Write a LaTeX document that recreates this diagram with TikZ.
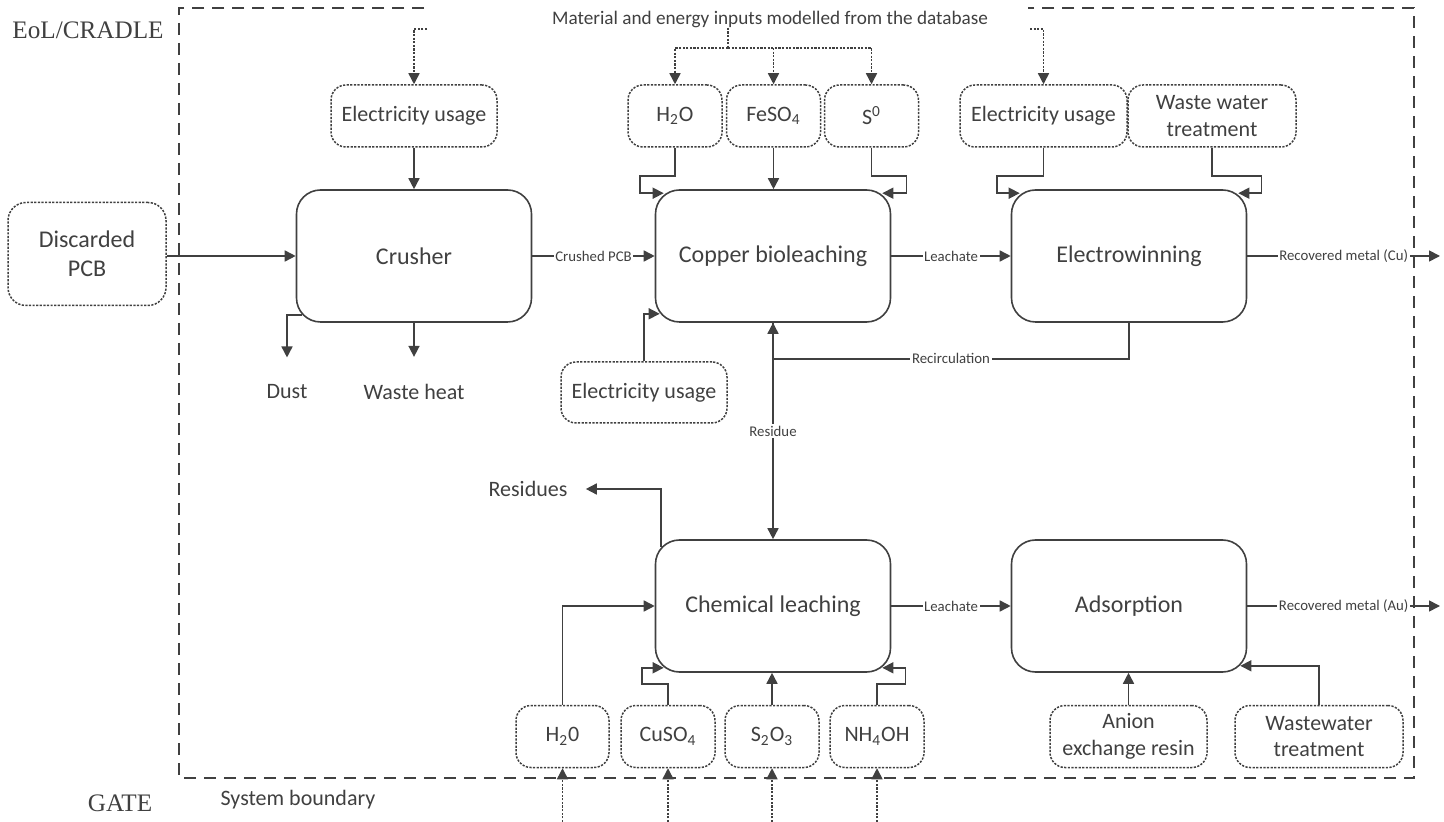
\documentclass[tikz,border=0pt]{standalone}
\usepackage{fontspec}
\setmainfont{Carlito}
\newfontfamily\seriffont{Liberation Serif}
\usetikzlibrary{arrows.meta,calc}
\definecolor{ink}{HTML}{404040}
\begin{document}
\begin{tikzpicture}[x=0.5pt,y=-0.5pt,
  every node/.style={text=ink},
  proc/.style={draw=ink, line width=0.8pt, rounded corners=12pt, minimum width=117.5pt, minimum height=66pt, inner sep=0pt, font=\fontsize{12}{14.5}\selectfont},
  inp/.style={draw=ink, line width=0.75pt, dash pattern=on 1.1pt off 0.7pt, rounded corners=7.5pt, minimum height=31pt, inner sep=0pt, align=center, font=\fontsize{11}{13.4}\selectfont},
  arr/.style={draw=ink, line width=0.8pt, -{Triangle[length=5.5pt,width=5.5pt]}},
  dotarr/.style={draw=ink, line width=0.75pt, dash pattern=on 1.1pt off 0.7pt, -{Triangle[length=5.5pt,width=5.5pt]}},
  dotline/.style={draw=ink, line width=0.75pt, dash pattern=on 1.1pt off 0.7pt},
  lbl/.style={font=\fontsize{7.4}{8}\selectfont, fill=white, inner sep=0.8pt},
  plain/.style={font=\fontsize{11}{13}\selectfont, inner sep=0pt},
  side/.style={font=\seriffont\fontsize{12.6}{14}\selectfont, inner sep=0pt},
]
\useasboundingbox (0,0) rectangle (1444,822);

% system boundary
\draw[ink, line width=0.75pt, dash pattern=on 6pt off 4pt] (424,8) -- (179,8) -- (179,778) -- (1414,778) -- (1414,8) -- (1028,8);

% side labels
\node[side] (eol) at (88,30) {EoL/CRADLE};
\node[side] (gate) at (120,803) {GATE};
\node[plain] (sysb) at (298,800) {System boundary};
\node[font=\fontsize{9.6}{11.5}\selectfont, inner sep=0pt] (mat) at (770,19) {Material and energy inputs modelled from the database};

% process boxes
\node[inp, minimum width=79pt, minimum height=51.5pt, rounded corners=9pt, font=\fontsize{12}{14.5}\selectfont] (pcb) at (87,254) {Discarded\\PCB};
\node[proc] (crusher) at (414,256) {Crusher};
\node[proc] (bio) at (773,256) {Copper bioleaching};
\node[proc] (ew) at (1129,256) {Electrowinning};
\node[proc] (chem) at (773,606) {Chemical leaching};
\node[proc] (ads) at (1129,606) {Adsorption};

% top inputs
\node[inp, minimum width=83pt] (celec) at (414,116) {Electricity usage};
\node[inp, minimum width=47pt] (h2oA) at (675,116) {H\textsubscript{2}O};
\node[inp, minimum width=47pt] (feso4) at (773.5,116) {FeSO\textsubscript{4}};
\node[inp, minimum width=47pt] (s0) at (871.5,116) {S\textsuperscript{0}};
\node[inp, minimum width=83.5pt] (ewel) at (1043.5,116) {Electricity usage};
\node[inp, minimum width=84pt] (wwt) at (1212,116) {Waste water\\treatment};
\node[inp, minimum width=83pt, minimum height=30.5pt] (bioel) at (644,392.5) {Electricity usage};

% bottom inputs
\node[inp, minimum width=46.5pt] (h20) at (562.5,736.5) {H\textsubscript{2}0};
\node[inp, minimum width=47pt] (cuso4) at (668,736.5) {CuSO\textsubscript{4}};
\node[inp, minimum width=47pt] (s2o3) at (772,736.5) {S\textsubscript{2}O\textsubscript{3}};
\node[inp, minimum width=47pt] (nh4oh) at (877,736.5) {NH\textsubscript{4}OH};
\node[inp, minimum width=78.5pt] (anion) at (1128.5,736.5) {Anion\\exchange resin};
\node[inp, minimum width=84pt] (wwt2) at (1319,736.5) {Wastewater\\treatment};

% outputs text
\node[plain] (dust) at (287,392) {Dust};
\node[plain] (wheat) at (414,392) {Waste heat};
\node[plain] (residues) at (528,489) {Residues};

% free ends
\coordinate (tee) at (728,48);
\coordinate (c1) at (427,29);
\coordinate (c2) at (1030,29);
\coordinate (bot) at (0,822);
\coordinate (cuout) at (1440,256);
\coordinate (auout) at (1440,606);

% dotted database inputs
\draw[dotline] (mat.south -| tee) -- (tee);
\draw[dotarr] (tee) -| (h2oA.north);
\draw[dotarr] (tee) -| (s0.north);
\draw[dotarr] (feso4.north |- tee) -- (feso4.north);
\draw[dotarr] (c1) -| (celec.north);
\draw[dotarr] (c2) -| (ewel.north);
\foreach \n in {h20,cuso4,s2o3,nh4oh}{
  \draw[dotarr] (\n.south |- bot) -- (\n.south);
}

% main flow
\draw[arr] (pcb.east |- crusher.west) -- (crusher.west);
\draw[arr] (crusher.east) -- node[lbl]{Crushed PCB} (bio.west);
\draw[arr] (bio.east) -- node[lbl]{Leachate} (ew.west);
\draw[arr] (ew.east) -- node[lbl]{Recovered metal (Cu)} (cuout);
\draw[arr] (chem.east) -- node[lbl]{Leachate} (ads.west);
\draw[arr] (ads.east) -- node[lbl]{Recovered metal (Au)} (auout);

% crusher
\draw[arr] (celec.south) -- (crusher.north);
\draw[arr] ($(crusher.south west)+(6,-8)$) -| ($(dust.north)+(0,-27)$);
\draw[arr] (crusher.south) -- ($(wheat.north)+(0,-27)$);

% bioleaching inputs
\draw[arr] (h2oA.south) -- ++(0,28) -| ($(bio.north west)+(-15,4)$) -- ($(bio.north west)+(9,4)$);
\draw[arr] (feso4.south) -- (feso4.south |- bio.north);
\draw[arr] (s0.south) -- ++(0,28) -| ($(bio.north east)+(15,4)$) -- ($(bio.north east)+(-9,4)$);
\draw[arr] (bioel.north) |- ($(bio.south west)+(5,-9)$);

% electrowinning inputs
\draw[arr] (ewel.south) -- ++(0,28) -| ($(ew.north west)+(-14,4)$) -- ($(ew.north west)+(9,4)$);
\draw[arr] (wwt.south) -- ++(0,28) -| ($(ew.north east)+(14,4)$) -- ($(ew.north east)+(-9,4)$);

% recirculation and residue
\draw[arr] (ew.south) |- node[lbl, pos=0.75]{Recirculation} ($(bio.south)+(0,36)$) -- (bio.south);
\draw[arr] (bio.south) -- node[lbl]{Residue} (chem.north);
\draw[arr] ($(chem.north west)+(6,8)$) |- ($(residues.east)+(18,0)$);

% chemical leaching inputs
\draw[arr] (h20.north) |- (chem.west);
\draw[arr] (cuso4.north) -- ++(0,-21) -| ($(chem.south west)+(-13,-5)$) -- ($(chem.south west)+(9,-5)$);
\draw[arr] (s2o3.north) -- (s2o3.north |- chem.south);
\draw[arr] (nh4oh.north) -- ++(0,-21) -| ($(chem.south east)+(14,-5)$) -- ($(chem.south east)+(-9,-5)$);

% adsorption inputs
\draw[arr] (anion.north) -- (anion.north |- ads.south);
\draw[arr] (wwt2.north) |- ($(ads.south east)+(-7,-7)$);
\end{tikzpicture}
\end{document}
